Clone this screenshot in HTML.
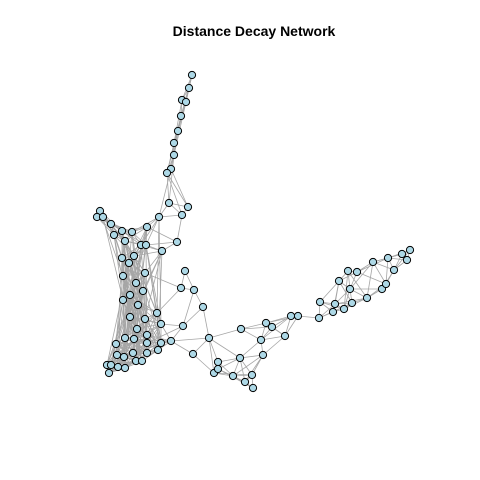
<!DOCTYPE html>
<html><head><meta charset="utf-8"><style>body{margin:0;background:#fff}svg{display:block}</style></head>
<body>
<svg id="chart" width="480" height="480">
<rect width="480" height="480" fill="#fff"/>
<text x="254" y="36" text-anchor="middle" font-family="Liberation Sans, sans-serif" font-weight="bold" font-size="14">Distance Decay Network</text>
<g id="edges"></g>
<g id="nodes"></g>
</svg>
<script>
const nodeX = [100,97,103,111,122,132,114,125,147,169,159,182,188,141,146,162,177,122,134,129,123,145,185,136,130,143,123,181,194,138,157,203,130,145,161,183,137,125,134,147,147,116,161,171,209,158,147,133,124,117,193,136,142,107,111,118,125,109,214,218,
192,189,182,186,181,178,174,174,171,167,
241,218,233,240,252,245,253,261,263,266,272,285,291,298,320,319,335,333,344,352,339,350,348,357,367,382,386,394,373,388,402,407,410];
const nodeY = [211,217,217,224,231,232,235,241,227,203,217,215,207,245,245,251,242,258,256,263,276,273,271,283,295,291,300,288,290,305,313,307,317,319,324,326,329,338,339,335,343,344,343,341,338,350,353,353,357,355,354,361,361,365,365,367,368,373,373,362,
75,88,100,102,116,131,143,155,169,173,
329,369,376,358,375,382,388,340,355,323,327,336,316,316,302,318,304,312,309,303,281,289,271,272,298,289,284,270,262,258,254,260,250];
const eg = document.getElementById('edges');
const ng = document.getElementById('nodes');
const n = nodeX.length;
for (let i = 0; i < n; i++) {
  for (let j = i + 1; j < n; j++) {
    const dx = nodeX[i] - nodeX[j], dy = nodeY[i] - nodeY[j];
    const d = Math.sqrt(dx*dx + dy*dy);
    const left = nodeX[i] < 165 && nodeX[j] < 165 && nodeY[i] > 200 && nodeY[j] > 200;
    const tail = i >= 60 && i < 70 || j >= 60 && j < 70;
    let ok = d < 26 || (d < 40 && (i + j) % 3 === 0);
    if (left && d < 110 && Math.abs(dx) < 30 && (i * 7 + j * 3) % 4 === 0) ok = true;
    if (tail && d < 60 && (i + j) % 2 === 0) ok = true;
    if (!ok) continue;
    const l = document.createElementNS('http://www.w3.org/2000/svg', 'line');
    
    
    l.setAttribute('x1', nodeX[i]); l.setAttribute('y1', nodeY[i]);
    l.setAttribute('x2', nodeX[j]); l.setAttribute('y2', nodeY[j]);
    l.setAttribute('stroke', '#a6a6a6'); l.setAttribute('stroke-width', '0.8');
    eg.appendChild(l);
  }
}
for (let i = 0; i < n; i++) {
  const c = document.createElementNS('http://www.w3.org/2000/svg', 'circle');
  
  
  c.setAttribute('cx', nodeX[i]); c.setAttribute('cy', nodeY[i]); c.setAttribute('r', 3.6);
  c.setAttribute('fill', '#add8e6'); c.setAttribute('stroke', '#000'); c.setAttribute('stroke-width', '1');
  ng.appendChild(c);
}
</script>
</body></html>
